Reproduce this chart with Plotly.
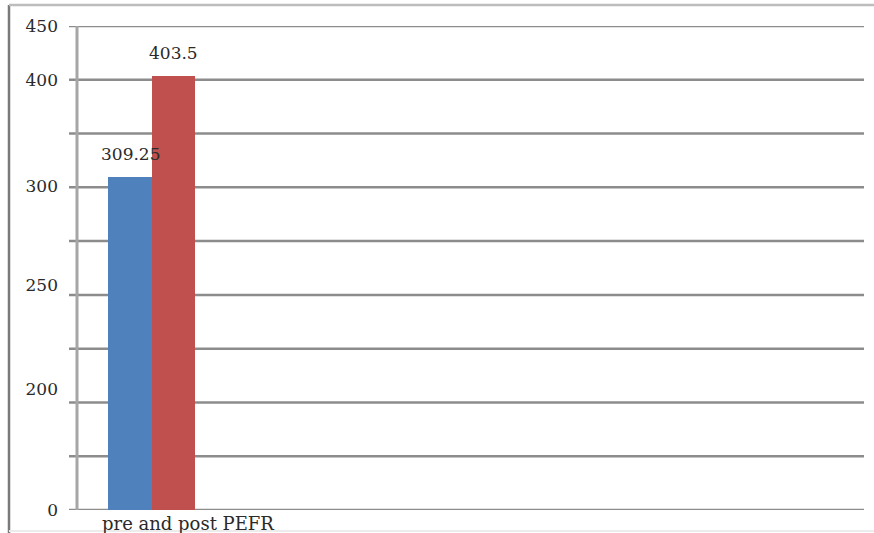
import plotly.graph_objects as go

# Chart data
categories = ["pre and post PEFR"]
pre_values = [309.25]
post_values = [403.5]
pre_labels = ["309.25"]
post_labels = ["403.5"]

# Y axis tick labels as printed on the chart
y_tick_text = ["0", "200", "250", "300", "400", "450"]
y_tick_vals = [0, 112, 209, 301, 400, 450]
grid_vals = list(range(0, 451, 50))

FONT = "DejaVu Serif"
TXT = "#2a2a2a"
W, H = 874, 533
L, R, T, B = 77, 10, 26, 23
plot_w = W - L - R
plot_h = H - T - B

fig = go.Figure()
fig.add_trace(go.Bar(
    x=categories, y=pre_values, name="pre",
    marker=dict(color="#4f81bd", line=dict(width=0)),
    offsetgroup="pre",
))
fig.add_trace(go.Bar(
    x=categories, y=post_values, name="post",
    marker=dict(color="#c0504d", line=dict(width=0)),
    offsetgroup="post",
))

# Horizontal gridlines with short outward tick stubs
shapes = []
for v in grid_vals:
    shapes.append(dict(type="line", xref="paper", yref="y",
                       x0=-8 / plot_w, x1=1, y0=v, y1=v,
                       line=dict(color="#8c8c8c", width=2.5), layer="below"))
# Vertical value axis line
shapes.append(dict(type="line", xref="paper", yref="paper", x0=0, x1=0, y0=0, y1=1,
                   line=dict(color="#a6a6a6", width=3), layer="below"))
# Outer chart frame (left, top and bottom edges)
fx = -(L - 9) / plot_w
ftop = 1 + (T - 5) / plot_h
fbot = -(B - 2) / plot_h
shapes.append(dict(type="line", xref="paper", yref="paper",
                   x0=fx, x1=fx, y0=-(B + 2) / plot_h, y1=ftop,
                   line=dict(color="#7a7a7a", width=2.5)))
shapes.append(dict(type="line", xref="paper", yref="paper",
                   x0=fx, x1=1 + R / plot_w, y0=ftop, y1=ftop,
                   line=dict(color="#bdbdbd", width=2.5)))
shapes.append(dict(type="line", xref="paper", yref="paper",
                   x0=fx, x1=1 + R / plot_w, y0=fbot, y1=fbot,
                   line=dict(color="#ececec", width=2)))

# Value labels above each bar (bar half-width is a quarter of a category unit)
annotations = [
    dict(text=pre_labels[0], x=-0.25, y=pre_values[0], xref="x", yref="y",
         yanchor="bottom", yshift=11, showarrow=False,
         font=dict(family=FONT, size=17, color=TXT)),
    dict(text=post_labels[0], x=0.25, y=post_values[0], xref="x", yref="y",
         yanchor="bottom", yshift=11, showarrow=False,
         font=dict(family=FONT, size=17, color=TXT)),
    dict(text=categories[0], xref="paper", yref="paper",
         x=(188 - L) / plot_w, y=0, yshift=-1, xanchor="center",
         yanchor="top", showarrow=False,
         font=dict(family=FONT, size=18, color=TXT)),
]

fig.update_layout(
    width=W, height=H,
    margin=dict(l=L, r=R, t=T, b=B),
    paper_bgcolor="white", plot_bgcolor="white",
    barmode="group", bargap=0.0, bargroupgap=0.0,
    showlegend=False,
    shapes=shapes,
    annotations=annotations,
    font=dict(family=FONT, size=17, color=TXT),
    xaxis=dict(range=[-0.86, 8.18], showticklabels=False, showgrid=False,
               zeroline=False, showline=False, ticks=""),
    yaxis=dict(range=[0, 450], tickmode="array", tickvals=y_tick_vals,
               ticktext=y_tick_text, showgrid=False, zeroline=False,
               showline=False, ticks="", ticklabelstandoff=18,
               tickfont=dict(family=FONT, size=17, color=TXT)),
)

fig.write_html("out.html")
